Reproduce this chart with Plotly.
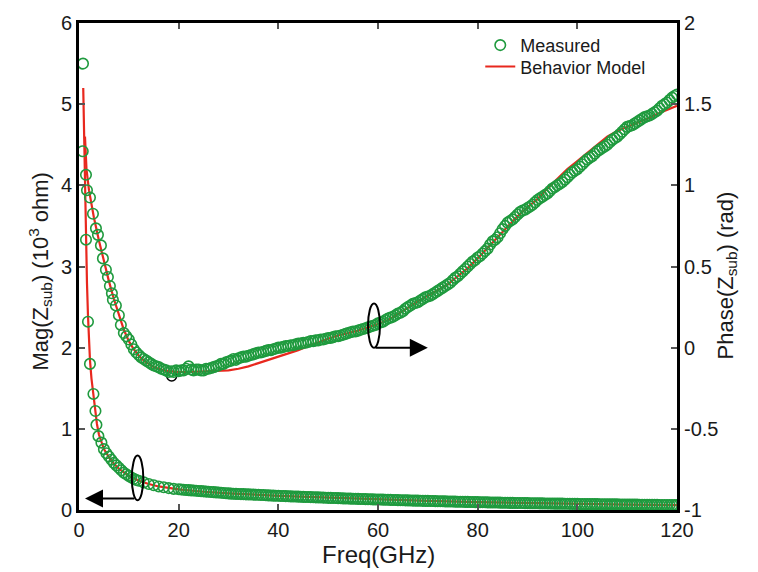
import plotly.graph_objects as go

# ---- data -------------------------------------------------------------
# Measured |Z_sub| in 10^3 ohm: low-frequency readings, then a 0.5 GHz grid from 20 GHz
freq_mag_low = [0.8, 1.4, 1.8, 2.2, 2.9, 3.3, 3.5, 3.9, 4.5,
                5.0, 5.5, 6.0, 6.5, 7.0, 7.5, 8.0, 8.5, 9.0, 9.5, 10.0,
                10.5, 11.0, 11.5, 12.0, 13, 14, 15, 16, 17, 18, 19]
mag_low = [5.50, 3.33, 2.32, 1.80, 1.43, 1.22, 1.05, 0.91, 0.83,
           0.75, 0.70, 0.66, 0.62, 0.58, 0.55, 0.52, 0.49, 0.46, 0.44, 0.42,
           0.40, 0.385, 0.37, 0.36, 0.34, 0.32, 0.305, 0.29, 0.28, 0.27, 0.26]
freq_grid = [20 + 0.5 * i for i in range(201)]
mag_grid = [0.255, 0.252, 0.25, 0.247, 0.245, 0.242, 0.24, 0.237, 0.235, 0.232,
            0.23, 0.227, 0.225, 0.222, 0.22, 0.217, 0.215, 0.212, 0.21, 0.207,
            0.205, 0.202, 0.20, 0.199, 0.198, 0.196, 0.195, 0.193, 0.192, 0.191,
            0.19, 0.188, 0.187, 0.185, 0.184, 0.182, 0.18, 0.178, 0.177, 0.176,
            0.175, 0.173, 0.172, 0.171, 0.17, 0.168, 0.167, 0.166, 0.165, 0.163,
            0.162, 0.161, 0.16, 0.159, 0.158, 0.156, 0.155, 0.154, 0.153, 0.151,
            0.15, 0.149, 0.148, 0.147, 0.146, 0.144, 0.143, 0.142, 0.141, 0.14,
            0.139, 0.138, 0.137, 0.136, 0.135, 0.134, 0.133, 0.132, 0.131, 0.13,
            0.13, 0.129, 0.128, 0.127, 0.126, 0.125, 0.124, 0.123, 0.122, 0.121,
            0.12, 0.119, 0.118, 0.117, 0.116, 0.115, 0.115, 0.114, 0.113, 0.112,
            0.112, 0.111, 0.11, 0.109, 0.108, 0.107, 0.107, 0.106, 0.105, 0.104,
            0.104, 0.103, 0.102, 0.101, 0.101, 0.10, 0.10, 0.099, 0.098, 0.097,
            0.097, 0.096, 0.096, 0.095, 0.094, 0.093, 0.093, 0.092, 0.092, 0.091,
            0.09, 0.09, 0.089, 0.088, 0.088, 0.087, 0.087, 0.086, 0.086, 0.085,
            0.085, 0.084, 0.084, 0.083, 0.083, 0.082, 0.082, 0.081, 0.081, 0.08,
            0.08, 0.079, 0.079, 0.078, 0.078, 0.077, 0.077, 0.076, 0.076, 0.075,
            0.075, 0.074, 0.074, 0.073, 0.073, 0.073, 0.073, 0.072, 0.072, 0.071,
            0.071, 0.07, 0.07, 0.07, 0.069, 0.069, 0.069, 0.068, 0.068, 0.067,
            0.067, 0.066, 0.066, 0.066, 0.066, 0.065, 0.065, 0.064, 0.064, 0.064,
            0.064, 0.063, 0.063, 0.062, 0.062, 0.062, 0.062, 0.061, 0.061, 0.06,
            0.06]

# Measured phase of Z_sub in rad
freq_phase_low = [0.75, 1.4, 1.6, 2.2, 2.8, 3.4, 3.8, 4.4, 4.8, 5.4,
                  5.8, 6.2, 6.6, 6.8, 7.4, 8.0, 8.4, 9.0, 9.5, 10.0,
                  10.5, 11.0, 11.5, 12.0, 12.5, 13.0, 13.5, 14.0, 14.5, 15.0,
                  15.5, 16.0, 16.5, 17.0, 17.5, 18.0, 18.5, 19.0, 19.5]
phase_low = [1.21, 1.065, 0.97, 0.925, 0.825, 0.735, 0.695, 0.63, 0.55, 0.48,
             0.435, 0.38, 0.335, 0.295, 0.26, 0.20, 0.14, 0.09, 0.07, 0.05,
             0.02, -0.01, -0.03, -0.045, -0.06, -0.07, -0.08, -0.09, -0.10, -0.11,
             -0.115, -0.12, -0.13, -0.135, -0.14, -0.15, -0.145, -0.15, -0.14]
phase_grid = [-0.145, -0.14, -0.14, -0.13, -0.115, -0.135, -0.14, -0.135, -0.135, -0.14,
              -0.14, -0.13, -0.13, -0.125, -0.12, -0.115, -0.11, -0.10, -0.10, -0.09,
              -0.085, -0.08, -0.07, -0.075, -0.065, -0.06, -0.055, -0.055, -0.05, -0.045,
              -0.04, -0.035, -0.03, -0.03, -0.025, -0.02, -0.015, -0.015, -0.01, -0.005,
              0.0, 0.0, 0.005, 0.01, 0.01, 0.015, 0.015, 0.02, 0.025, 0.025,
              0.03, 0.03, 0.035, 0.04, 0.04, 0.045, 0.045, 0.05, 0.05, 0.055,
              0.06, 0.06, 0.065, 0.07, 0.07, 0.075, 0.08, 0.085, 0.09, 0.095,
              0.10, 0.10, 0.105, 0.11, 0.115, 0.12, 0.125, 0.13, 0.135, 0.14,
              0.15, 0.155, 0.16, 0.17, 0.18, 0.185, 0.19, 0.20, 0.21, 0.215,
              0.225, 0.24, 0.25, 0.26, 0.27, 0.275, 0.28, 0.29, 0.30, 0.31,
              0.315, 0.32, 0.33, 0.34, 0.35, 0.36, 0.37, 0.38, 0.39, 0.40,
              0.415, 0.43, 0.44, 0.455, 0.47, 0.485, 0.50, 0.515, 0.53, 0.54,
              0.555, 0.565, 0.58, 0.595, 0.61, 0.635, 0.655, 0.665, 0.68, 0.705,
              0.73, 0.75, 0.77, 0.78, 0.79, 0.805, 0.82, 0.835, 0.845, 0.85,
              0.86, 0.87, 0.88, 0.895, 0.91, 0.92, 0.93, 0.94, 0.95, 0.965,
              0.98, 0.99, 1.00, 1.01, 1.02, 1.035, 1.05, 1.065, 1.08, 1.09,
              1.10, 1.115, 1.13, 1.145, 1.16, 1.17, 1.18, 1.195, 1.21, 1.22,
              1.23, 1.24, 1.25, 1.265, 1.28, 1.29, 1.30, 1.315, 1.33, 1.345,
              1.36, 1.365, 1.37, 1.38, 1.39, 1.40, 1.41, 1.42, 1.425, 1.43,
              1.44, 1.45, 1.46, 1.475, 1.49, 1.50, 1.51, 1.525, 1.54, 1.55,
              1.56]

# Behavior model
freq_mag_model = [0.85, 1.0, 1.2, 1.4, 1.6, 1.8, 2.0, 2.2, 2.5, 2.8,
                  3.3, 3.6, 4.0, 4.5, 5, 6, 7, 8, 9, 10,
                  12, 14, 16, 18, 20, 25, 30, 40, 50, 60,
                  70, 80, 90, 100, 110, 120]
mag_model = [5.2, 4.7, 3.9, 3.3, 2.8, 2.4, 2.1, 1.85, 1.62, 1.45,
             1.22, 1.06, 0.93, 0.83, 0.75, 0.65, 0.57, 0.51, 0.46, 0.42,
             0.36, 0.32, 0.29, 0.27, 0.255, 0.225, 0.205, 0.175, 0.152, 0.13,
             0.113, 0.098, 0.086, 0.076, 0.067, 0.06]

freq_phase_model = ([1.2, 1.5, 2, 3, 4, 5, 6, 7, 8, 9,
                     10, 11, 12, 13, 14, 15, 16, 17, 18] + list(range(20, 121, 2)))
phase_model = [1.30, 1.10, 0.97, 0.80, 0.66, 0.53, 0.41, 0.30, 0.20, 0.11,
               0.04, -0.01, -0.05, -0.08, -0.10, -0.12, -0.13, -0.14, -0.145,
               -0.15, -0.15, -0.148, -0.145, -0.142, -0.14, -0.13, -0.115, -0.095, -0.075,
               -0.055, -0.035, -0.015, 0.01, 0.035, 0.055, 0.075, 0.09, 0.105, 0.125,
               0.145, 0.17, 0.205, 0.245, 0.285, 0.32, 0.35, 0.39, 0.44, 0.49,
               0.55, 0.615, 0.68, 0.75, 0.81, 0.865, 0.915, 0.98, 1.04, 1.10,
               1.15, 1.20, 1.25, 1.30, 1.335, 1.36, 1.385, 1.41, 1.44, 1.465,
               1.49]

x_ticks = [0, 20, 40, 60, 80, 100, 120]
mag_ticks = [0, 1, 2, 3, 4, 5, 6]
phase_ticks = [-1, -0.5, 0, 0.5, 1, 1.5, 2]
phase_tick_text = ["-1", "-0.5", "0", "0.5", "1", "1.5", "2"]

GREEN = "#1f9a3e"
RED = "#e8281e"
FONT = "Liberation Sans, Arial, Helvetica, sans-serif"

fig = go.Figure()

# model curves first so the measured circles sit on top
fig.add_trace(go.Scatter(x=freq_mag_model, y=mag_model, mode="lines",
                         line=dict(color=RED, width=2.2),
                         name="Behavior Model", legend="legend2"))
fig.add_trace(go.Scatter(x=freq_phase_model, y=phase_model, yaxis="y2", mode="lines",
                         line=dict(color=RED, width=2.2),
                         name="Behavior Model", showlegend=False))

meas_marker = dict(symbol="circle-open", size=10.5, color=GREEN, line=dict(width=1.6))
fig.add_trace(go.Scatter(x=freq_mag_low + freq_grid, y=mag_low + mag_grid,
                         mode="markers", marker=meas_marker, name="Measured",
                         legend="legend"))
fig.add_trace(go.Scatter(x=freq_phase_low + freq_grid, y=phase_low + phase_grid,
                         yaxis="y2", mode="markers", marker=meas_marker,
                         name="Measured", showlegend=False))

axis_common = dict(ticks="inside", ticklen=6, tickwidth=1.5, tickcolor="#555",
                   showline=True, linewidth=3, linecolor="black",
                   showgrid=False, zeroline=False,
                   tickfont=dict(family=FONT, size=20, color="#1a1a1a"))

legend_common = dict(xanchor="left", yanchor="top", bgcolor="rgba(0,0,0,0)",
                     font=dict(family=FONT, size=18, color="#1a1a1a"))

fig.update_layout(
    width=758, height=572,
    margin=dict(l=79, r=81, t=15, b=62),
    plot_bgcolor="white", paper_bgcolor="white",
    font=dict(family=FONT, size=20, color="#1a1a1a"),
    xaxis=dict(range=[0, 120], tickvals=x_ticks, mirror="ticks", **axis_common),
    yaxis=dict(range=[0, 6], tickvals=mag_ticks, **axis_common),
    yaxis2=dict(range=[-1, 2], tickvals=phase_ticks, ticktext=phase_tick_text,
                overlaying="y", side="right", **axis_common),
    legend=dict(x=0.671, y=0.992, **legend_common),
    legend2=dict(x=0.671, y=0.948, **legend_common),
    showlegend=True,
)

# axis titles
fig.add_annotation(text="Freq(GHz)", xref="paper", yref="paper", x=0.5, y=0,
                   xanchor="center", yanchor="middle", yshift=-44,
                   showarrow=False, font=dict(size=24))
fig.add_annotation(text="Mag(Z<sub>sub</sub>) (10<sup>3</sup> ohm)", xref="paper",
                   yref="paper", x=0, y=0.5, xanchor="center", yanchor="middle",
                   xshift=-39, yshift=-5, textangle=-90,
                   showarrow=False, font=dict(size=22))
fig.add_annotation(text="Phase(Z<sub>sub</sub>) (rad)", xref="paper", yref="paper",
                   x=1, y=0.5, xanchor="center", yanchor="middle",
                   xshift=49, yshift=-9, textangle=-90,
                   showarrow=False, font=dict(size=22))

# ellipses marking each curve and arrows pointing at its axis
fig.add_shape(type="circle", xref="x", yref="y", x0=10.6, x1=12.9, y0=0.12, y1=0.67,
              line=dict(color="black", width=2))
fig.add_annotation(x=1.2, y=0.142, ax=11.4, ay=0.142, xref="x", yref="y",
                   axref="x", ayref="y", text="", showarrow=True,
                   arrowhead=2, arrowsize=1.8, arrowwidth=2, arrowcolor="black")
fig.add_shape(type="circle", xref="x", yref="y2", x0=58.0, x1=60.4, y0=0.0, y1=0.2725,
              line=dict(color="black", width=2))
fig.add_annotation(x=70.0, y=0.0, ax=59.2, ay=0.0, xref="x", yref="y2",
                   axref="x", ayref="y2", text="", showarrow=True,
                   arrowhead=2, arrowsize=1.8, arrowwidth=2, arrowcolor="black")
# stray dark marker near the phase minimum
fig.add_shape(type="circle", xref="x", yref="y2", x0=17.6, x1=19.6, y0=-0.205, y1=-0.145,
              line=dict(color="black", width=1.5), layer="below")

fig.write_html("out.html")
